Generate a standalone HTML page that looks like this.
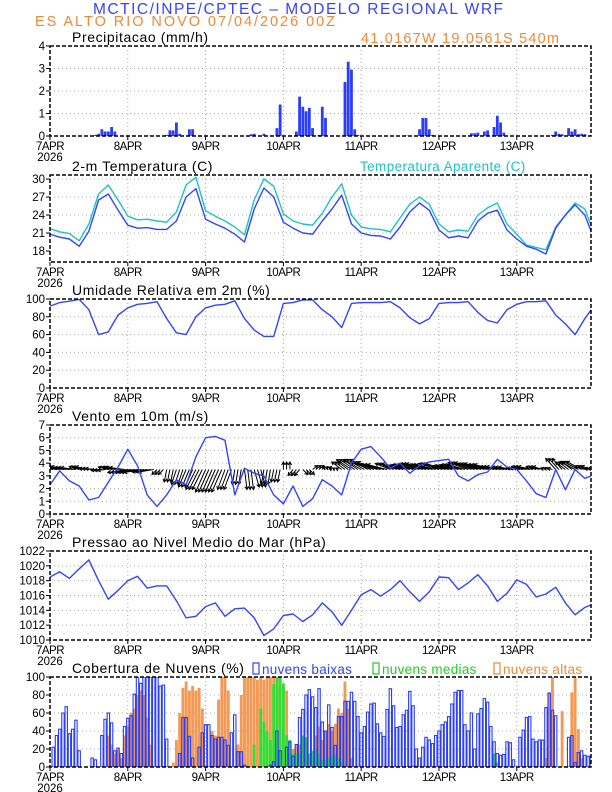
<!DOCTYPE html>
<html><head><meta charset="utf-8">
<style>
html,body{margin:0;padding:0;background:#fff;}
svg{display:block;font-family:"Liberation Sans",sans-serif;}
</style></head>
<body>
<svg id="chart" width="612" height="792" viewBox="0 0 612 792" xmlns="http://www.w3.org/2000/svg">
<text x="298" y="14" text-anchor="middle" font-size="15.5" fill="#3344ff" textLength="410">MCTIC/INPE/CPTEC – MODELO REGIONAL WRF</text>
<text x="35" y="26" font-size="14.5" fill="#f08838" textLength="300">ES ALTO RIO NOVO    07/04/2026 00Z</text>
<text x="361" y="43" font-size="14.5" fill="#f08838" textLength="198">41.0167W 19.0561S 540m</text>
</svg>
<script>
// ---------- data ----------
const dayLabels = ["7APR","8APR","9APR","10APR","11APR","12APR","13APR"];
const hours3 = [0,3,6,9,12,15,18,21,24,27,30,33,36,39,42,45,48,51,54,57,60,63,66,69,72,75,78,81,84,87,90,93,96,99,102,105,108,111,114,117,120,123,126,129,132,135,138,141,144,147,150,153,156,159,162,165,168];
const precipHours = [14,15,16,17,18,19,20,31,33,36,37,38,39,40,43,44,62,63,66,70,71,76,77,78,79,80,81,83,84,85,91,92,93,94,95,110,111,114,115,116,117,118,130,131,132,134,135,137,138,139,140,155,156,157,158,160,161,162,163,164,165];
const precipVals = [0.05,0.1,0.3,0.2,0.2,0.4,0.2,0.02,0.02,0.05,0.25,0.25,0.6,0.1,0.3,0.3,0.08,0.1,0.1,0.35,1.4,0.2,1.75,1.3,1.1,1.25,0.35,0.05,1.3,0.8,2.4,3.3,2.95,0.3,0.05,0.02,0.02,0.3,0.8,0.8,0.3,0.05,0.12,0.12,0.15,0.2,0.25,0.4,0.9,0.6,0.15,0.05,0.2,0.1,0.08,0.35,0.2,0.3,0.08,0.1,0.08];
const tempVals = [20.8,20.3,20.0,18.8,21.3,26.5,27.5,24.8, 22.3,21.8,21.9,21.6,21.6,23.0,27.0,28.4, 23.3,22.5,21.8,20.8,19.5,25.0,28.5,27.0, 22.8,21.8,21.0,20.8,23.0,25.0,27.3,22.5, 21.0,20.6,20.5,20.0,22.0,24.5,26.0,24.8, 21.5,20.2,20.5,20.2,23.0,24.3,24.8,21.5, 20.0,18.8,18.3,17.5,21.8,24.0,25.7,24.0, 19.8];
const appTempVals = [21.7,21.2,20.9,19.7,22.5,27.5,29.0,26.5, 23.8,23.2,23.3,23.0,22.8,24.5,29.0,30.3, 24.7,23.8,23.0,22.0,20.7,26.5,30.0,28.8, 24.2,23.0,22.5,22.3,24.3,27.0,29.2,24.0, 22.0,21.7,21.6,21.2,23.5,25.8,27.0,25.8, 22.5,21.2,21.5,21.3,24.0,25.2,26.0,22.5, 20.8,19.0,18.6,18.2,22.0,24.0,26.0,25.0, 20.8];
const rhVals = [92,96,97.5,99.5,88,60,63,82, 90,94,95,97,78,62,60,80, 90,93,94,98,78,65,58,58, 95,96,99,99,88,80,68,95, 96,96,96,97,90,79,72,78, 95,96,96,97,85,76,73,88, 94,97,97,98,82,72,60,78, 93];
const windSpeed = [2.3,3.4,2.6,2.2,1.1,1.3,2.5,3.7, 5.1,3.8,1.5,0.6,1.5,2.7,2.3,4.5, 6.0,6.1,5.8,1.5,3.6,3.2,3.0,1.5, 0.8,2.2,0.6,1.2,2.7,2.2,1.5,4.0, 5.1,5.3,4.5,3.6,4.0,3.2,3.8,4.1, 4.2,4.3,3.0,2.6,3.1,3.3,4.3,3.7, 3.5,2.6,1.6,1.3,3.5,1.9,3.5,2.8, 3.1];
const windU = [-3,-3,-3,-2,-2,-1.5,-2,-3, -4,-4,-3,-1,-0.5,-1,-1.5,-2, -2,-2,-1.5,-0.5,0.5,1,-0.5,-0.5, 0,-1,1,1,0.5,-0.5,-2,-3, -3.5,-4,-4,-3,-3,-3.5,-4,-4, -4,-3,-3.5,-4,-4,-4,-3.5,-3, -2,-3,-2,-1,-2,-2,-3,-2, -2];
const windV = [0.5,0.6,0.4,0.6,0.2,-0.2,0.5,0.4, -0.6,-0.6,-0.5,-1,-2.5,-3,-3.5,-4, -4.5,-4.5,-4,-3,-4,-3.5,-3,-2.5, 1.5,-1.2,-1,0.8,0.6,0.3,1.5,2, 2,1.5,1,1.2,0.8,1,1.2,1, 1.2,0.8,1,1.4,1.2,1,0.6,0.5, 0.3,0.6,0.6,0.3,2.2,1.5,1.6,0.7, 0.2];
const pressVals = [1018.5,1019.2,1018.3,1019.6,1020.8,1018.0,1015.5,1016.7, 1018.0,1018.6,1017.0,1017.3,1017.3,1015.3,1013.0,1013.2, 1014.5,1015.0,1013.2,1014.2,1014.3,1013.0,1010.6,1011.5, 1013.3,1013.5,1012.5,1013.4,1015.0,1013.8,1012.0,1014.0, 1016.1,1016.8,1015.9,1016.8,1018.0,1016.5,1015.2,1016.5, 1018.5,1018.4,1016.8,1017.7,1018.8,1017.3,1015.2,1016.3, 1018.1,1017.5,1015.8,1016.2,1017.1,1015.0,1013.4,1014.4, 1014.9];
const lowCloud = [
0,22,35,42,60,67,37,42,52,18,0,0,0,10,8,0,35,53,60,49,18,21,15,45,
54,57,81,100,93,100,100,100,100,100,90,91,31,0,0,0,15,55,55,34,10,0,22,38,
47,47,35,31,33,33,30,24,38,58,17,17,2,0,0,0,0,0,0,0,2,6,40,18,
0,22,28,12,25,55,64,80,86,78,66,87,50,40,69,44,24,56,56,73,73,83,73,56,
38,45,61,70,71,48,38,34,64,87,68,44,45,58,63,84,68,20,10,22,33,30,26,35,
40,47,50,56,70,83,85,85,47,40,60,20,59,65,76,72,45,28,15,13,14,28,27,8,
0,33,41,55,56,31,28,30,30,66,82,63,57,0,0,0,33,35,5,16,18,13,12,12];
const highCloudHours = [18,19,20,21,22,23,24,25,26,27,28,29,30,31,38,39,40,41,42,43,44,45,46,47,50,51,52,53,54,55,58,59,60,61,62,63,64,65,66,67,68,69,70,71,72,73,75,76,77,78,79,80,81,82,83,84,85,86,87,88,89,90,91,92,93,112,113,153,154,155,158,161,162,163,164];
const highCloudVals = [35,25,15,20,10,35,45,60,65,80,85,80,55,25,5,30,60,88,95,85,90,85,88,65,40,35,75,100,100,85,25,80,100,100,100,100,97,100,97,100,100,100,90,100,90,85,20,25,25,10,5,8,10,35,45,30,40,48,40,48,65,60,95,65,10,2,2,10,83,100,62,83,100,42,10];
const midCloudHours = [63,65,66,67,68,69,70,71,72,73,74,75,76,77,78,79,80,81,82,83,84,85,86,87,88,89,90,137,138];
const midCloudVals = [25,65,50,40,30,92,100,100,93,35,30,15,15,15,35,33,15,18,20,15,8,8,10,12,14,10,5,15,5];

// ---------- helpers ----------
const svg = document.getElementById('chart');
const NS = 'http://www.w3.org/2000/svg';
const X0 = 50, X1 = 591, HMAX = 166.9;
function xh(h){ return X0 + h*(X1-X0)/HMAX; }
function mk(tag, attrs, parent){
  const e = document.createElementNS(NS, tag);
  for (const k in attrs) e.setAttribute(k, attrs[k]);
  (parent||svg).appendChild(e);
  return e;
}
function yScale(p){ return v => p.bot - (v-p.min)/(p.max-p.min)*(p.bot-p.top); }

function panel(p){
  const g = mk('g', {});
  
  
  const ys = yScale(p);
  for (let d=1; d<7; d++){
    const l = mk('line', {x1:xh(d*24), x2:xh(d*24), y1:p.top, y2:p.bot, stroke:'#aaa', 'stroke-width':1, 'stroke-dasharray':'1,3'}, g);
    
    
  }
  p.ticks.forEach(t => {
    const y = ys(t);
    if (t!==p.ticks[0] && Math.abs(y-p.top)>1){
      const l = mk('line', {x1:X0, x2:X1, y1:y, y2:y, stroke:'#aaa', 'stroke-width':1, 'stroke-dasharray':'1,3'}, g);
      
      
    }
    const tk = mk('line', {x1:X0-4, x2:X0, y1:y, y2:y, stroke:'#000', 'stroke-width':1}, g);
    
    
    const tx = mk('text', {x:X0-5, y:y+4, 'text-anchor':'end', 'font-size':11.5, fill:'#000'}, g);
    tx.textContent = t;
    
    
  });
  dayLabels.forEach((d,i) => {
    const x = xh(i*24);
    const tk = mk('line', {x1:x, x2:x, y1:p.bot, y2:p.bot+4, stroke:'#000', 'stroke-width':1}, g);
    
    
    const tx = mk('text', {x:x, y:p.bot+14, 'text-anchor':'middle', 'font-size':11.5, fill:'#000', 'letter-spacing':'-0.5'}, g);
    tx.textContent = d;
    
    
  });
  const yr = mk('text', {x:xh(0), y:p.bot+25, 'text-anchor':'middle', 'font-size':11.5, fill:'#000'}, g);
  yr.textContent = '2026';
  
  
  const tt = mk('text', {x:72, y:p.top-4, 'font-size':14, fill:'#000', 'letter-spacing':'0.6'}, g);
  tt.textContent = p.title;
  
  
  const cid = 'clip-'+p.name;
  const cp = mk('clipPath', {id:cid}, g);
  mk('rect', {x:X0, y:p.top, width:X1-X0, height:p.bot-p.top}, cp);
  const plot = mk('g', {'clip-path':'url(#'+cid+')'}, g);
  
  
  p.g = g; p.plot = plot; p.ys = ys;
  return p;
}
function frame(p){
  const f = mk('rect', {x:X0, y:p.top, width:X1-X0, height:p.bot-p.top, fill:'none', stroke:'#000', 'stroke-width':1.5, 'stroke-dasharray':'4,2'}, p.g);
  
  
}
function line(p, hs, vals, color, name){
  const d = hs.map((h,i)=> (i?'L':'M')+xh(h).toFixed(1)+','+p.ys(vals[i]).toFixed(1)).join('');
  const e = mk('path', {d:d, fill:'none', stroke:color, 'stroke-width':1.4, 'stroke-linejoin':'round'}, p.plot);
  
  
}
function bars(p, hs, vals, fill, stroke, name, w){
  hs.forEach((h,i) => {
    if (vals[i] <= 0) return;
    const y = p.ys(vals[i]);
    const r = mk('rect', {x:xh(h)-w/2, y:y, width:w, height:p.bot-y, fill:fill, stroke:stroke, 'stroke-width':stroke==='none'?0:1.1}, p.plot);
    
    
  });
}

// ---------- panels ----------
const P1 = panel({name:'precip-panel', title:'Precipitacao (mm/h)', top:46, bot:136, min:0, max:4, ticks:[0,1,2,3,4]});
bars(P1, precipHours, precipVals, '#2a3cff', 'none', 'precip-bar', 2.8);
frame(P1);

const P2 = panel({name:'temperature-panel', title:'2-m Temperatura (C)', top:175, bot:262, min:16.17, max:30.67, ticks:[18,21,24,27,30]});
line(P2, hours3, appTempVals, '#1cc4c4', 'apparent-temperature-line');
line(P2, hours3, tempVals, '#3344ff', 'temperature-line');
frame(P2);
const lg = mk('text', {x:360, y:171, 'font-size':13.5, fill:'#1cc4c4', 'letter-spacing':'0.4'});
lg.textContent = 'Temperatura Aparente (C)';



const P3 = panel({name:'humidity-panel', title:'Umidade Relativa em 2m (%)', top:299, bot:388, min:0, max:100, ticks:[0,20,40,60,80,100]});
line(P3, hours3, rhVals, '#3344ff', 'humidity-line');
frame(P3);

const P4 = panel({name:'wind-panel', title:'Vento em 10m (m/s)', top:425, bot:514, min:0, max:7, ticks:[0,1,2,3,4,5,6,7]});
const base = P4.ys(3.5);
hours3.forEach((h,i) => {
  for (let k=0; k<3; k++){
    const x0 = xh(h+k), y0 = base;
    const x1 = x0 + windU[i]*5, y1 = y0 - windV[i]*5;
    const ang = Math.atan2(y1-y0, x1-x0);
    const a1 = ang+2.6, a2 = ang-2.6;
    const d = 'M'+x0.toFixed(1)+','+y0.toFixed(1)+'L'+x1.toFixed(1)+','+y1.toFixed(1)+
      'M'+(x1+3.5*Math.cos(a1)).toFixed(1)+','+(y1+3.5*Math.sin(a1)).toFixed(1)+'L'+x1.toFixed(1)+','+y1.toFixed(1)+
      'L'+(x1+3.5*Math.cos(a2)).toFixed(1)+','+(y1+3.5*Math.sin(a2)).toFixed(1);
    const e = mk('path', {d:d, fill:'none', stroke:'#000', 'stroke-width':1}, P4.plot);
    
    
  }
});
line(P4, hours3, windSpeed, '#3344ff', 'wind-speed-line');
frame(P4);

const P5 = panel({name:'pressure-panel', title:'Pressao ao Nivel Medio do Mar (hPa)', top:551, bot:640, min:1010, max:1022, ticks:[1010,1012,1014,1016,1018,1020,1022]});
line(P5, hours3, pressVals, '#3344ff', 'pressure-line');
frame(P5);

const P6 = panel({name:'cloud-panel', title:'Cobertura de Nuvens (%)', top:677, bot:767, min:0, max:100, ticks:[0,20,40,60,80,100]});
bars(P6, highCloudHours, highCloudVals, '#f29a55', 'none', 'high-cloud-bar', 2.9);
bars(P6, midCloudHours, midCloudVals, '#33dd33', 'none', 'mid-cloud-bar', 2.9);
const lowHours = lowCloud.map((v,i)=>i);
bars(P6, lowHours, lowCloud, 'none', '#2a3cff', 'low-cloud-bar', 2.4);
frame(P6);
[['nuvens baixas','#3344ff',253,'low-cloud-legend'],['nuvens medias','#22cc22',373,'mid-cloud-legend'],['nuvens altas','#f08838',494,'high-cloud-legend']].forEach(l => {
  const b = mk('rect', {x:l[2], y:663, width:6, height:11, fill:'none', stroke:l[1], 'stroke-width':1.2});
  
  
  const t = mk('text', {x:l[2]+9, y:674, 'font-size':13.5, fill:l[1], 'letter-spacing':'0.3'});
  t.textContent = l[0];
  
  
});
</script>
</body></html>
